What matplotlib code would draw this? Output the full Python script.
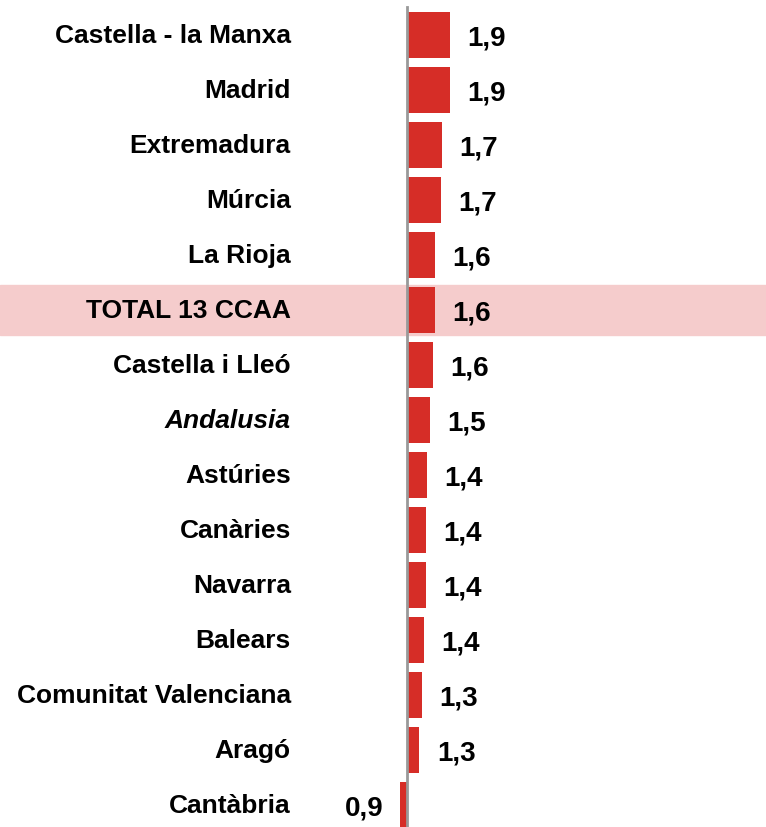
import matplotlib.pyplot as plt
from matplotlib import font_manager
from matplotlib.font_manager import FontProperties
from matplotlib.patches import Rectangle

# regions, ordered top to bottom as in the chart
regions = ['Castella - la Manxa', 'Madrid', 'Extremadura', 'Múrcia', 'La Rioja',
           'TOTAL 13 CCAA', 'Castella i Lleó', 'Andalusia', 'Astúries', 'Canàries',
           'Navarra', 'Balears', 'Comunitat Valenciana', 'Aragó', 'Cantàbria']
values = [1.90, 1.89, 1.73, 1.70, 1.59, 1.58, 1.55, 1.48, 1.41, 1.40,
          1.40, 1.36, 1.31, 1.26, 0.86]
base = 1.0
highlight = 'TOTAL 13 CCAA'
italic = ['Andalusia']


def lib_font(style):
    # pick the regular-width Liberation Sans file (not the Narrow one)
    for f in font_manager.fontManager.ttflist:
        if f.name == 'Liberation Sans' and f.weight in (700, 'bold') and f.style == style:
            return FontProperties(fname=f.fname)
    return FontProperties(family='DejaVu Sans', weight='bold', style=style)


bold = lib_font('normal')
bold_it = lib_font('italic')

fig = plt.figure(figsize=(7.66, 8.28), dpi=100)
ax = fig.add_axes([0, 0, 1, 1])
ax.set_xlim(-7.479, 8.479)
ax.set_ylim(14.4, -0.6545)
ax.axis('off')

ypos = list(range(len(regions)))
widths = [v - base for v in values]

# pink band behind the total row
hi = regions.index(highlight)
ax.add_patch(Rectangle((-7.479, hi - 0.455), 16, 0.91, color='#f5cccc', zorder=0))

ax.barh(ypos, widths, left=base, height=0.82, color='#d62d27', zorder=2)
ax.plot([base, base], [-0.5, 14.4], color='#999999', lw=2, zorder=3)

for y, name, v in zip(ypos, regions, values):
    fp = bold_it if name in italic else bold
    ax.text(-1.42, y, name, ha='right', va='center', fontproperties=fp,
            fontsize=19, zorder=4)
    lab = f'{v:.1f}'.replace('.', ',')
    if v >= base:
        ax.text(v + 0.36, y + 0.05, lab, ha='left', va='center', fontproperties=bold,
                fontsize=20, zorder=4)
    else:
        ax.text(v - 0.36, y + 0.05, lab, ha='right', va='center', fontproperties=bold,
                fontsize=20, zorder=4)

fig.savefig('out.png', dpi=100)
